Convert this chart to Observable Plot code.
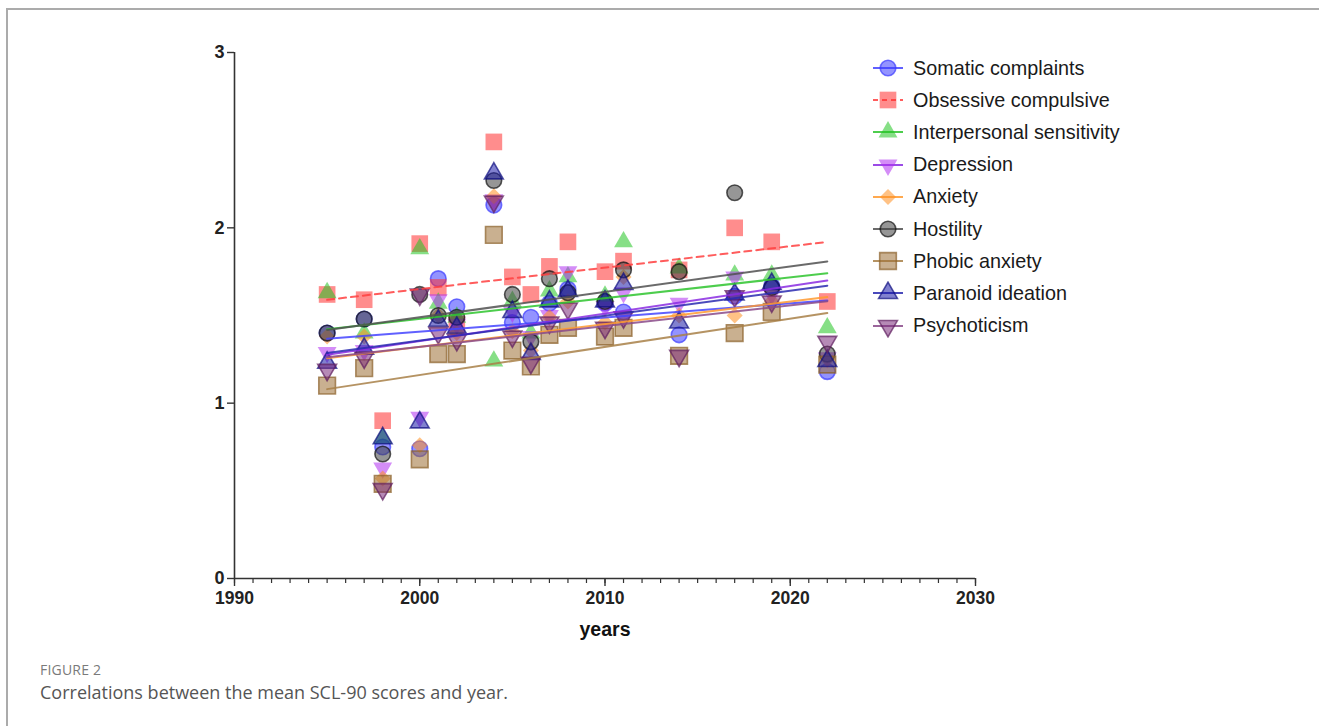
<!DOCTYPE html>
<html>
<head>
<meta charset="utf-8">
<script src="https://cdn.jsdelivr.net/npm/d3@7"></script>
<script src="https://cdn.jsdelivr.net/npm/@observablehq/plot@0.6"></script>
<style>
  html, body { margin: 0; padding: 0; background: #fff; }
  #wrap { position: relative; width: 1319px; height: 726px; overflow: hidden; }
  #frame { position: absolute; left: 6px; top: 8px; right: -10px; bottom: -10px;
           border-top: 2px solid #ababab; border-left: 2px solid #ababab; }
  #chart { position: absolute; left: 0; top: 0; }
  #legend { position: absolute; left: 872px; top: 0; font-family: "Liberation Sans", Arial, sans-serif;
            font-size: 19.8px; color: #1a1a1a; }
  .item { position: absolute; left: 0; height: 24px; display: flex; align-items: center; white-space: nowrap; }
  .item svg { display: block; margin-right: 9px; }
  #figlabel { position: absolute; left: 40px; top: 660px; font-family: "Open Sans", "Noto Sans", sans-serif;
              font-size: 14px; color: #7a7a7a; letter-spacing: 0.2px; }
  #caption { position: absolute; left: 40px; top: 680px; font-family: "Open Sans", "Noto Sans", sans-serif;
             font-size: 18px; color: #555; }
</style>
</head>
<body>
<div id="wrap">
  <div id="frame"></div>
  <div id="chart"></div>
  <div id="legend"></div>
  <div id="figlabel">FIGURE 2</div>
  <div id="caption">Correlations between the mean SCL-90 scores and year.</div>
</div>
<script>
// ---- data ----
const years = [1995, 1997, 1998, 2000, 2001, 2002, 2004, 2005, 2006, 2007, 2008, 2010, 2011, 2014, 2017, 2019, 2022];
const somatic       = [1.40, 1.48, 0.75, 0.74, 1.71, 1.55, 2.13, 1.46, 1.49, 1.57, 1.65, 1.57, 1.52, 1.39, 1.61, 1.67, 1.18];
const obsessive     = [1.62, 1.59, 0.90, 1.91, 1.66, 1.45, 2.49, 1.72, 1.62, 1.78, 1.92, 1.75, 1.81, 1.76, 2.00, 1.92, 1.58];
const interpersonal = [1.63, 1.40, 0.80, 1.88, 1.57, 1.49, 1.24, 1.58, 1.40, 1.64, 1.72, 1.61, 1.92, 1.77, 1.73, 1.73, 1.43];
const depression    = [1.29, 1.30, 0.63, 0.92, 1.59, 1.45, 2.16, 1.52, 1.38, 1.50, 1.75, 1.55, 1.63, 1.57, 1.72, 1.62, 1.26];
const anxiety       = [1.38, 1.38, 0.57, 0.76, 1.50, 1.40, 2.18, 1.41, 1.30, 1.49, 1.58, 1.46, 1.72, 1.50, 1.50, 1.58, 1.25];
const hostility     = [1.40, 1.48, 0.71, 1.62, 1.50, 1.49, 2.27, 1.62, 1.35, 1.71, 1.63, 1.58, 1.76, 1.75, 2.20, 1.66, 1.28];
const phobic        = [1.10, 1.20, 0.54, 0.68, 1.28, 1.28, 1.96, 1.30, 1.21, 1.39, 1.43, 1.38, 1.43, 1.27, 1.40, 1.52, 1.22];
const paranoid      = [1.23, 1.31, 0.80, 0.89, 1.47, 1.43, 2.31, 1.52, 1.28, 1.58, 1.64, 1.58, 1.68, 1.46, 1.62, 1.68, 1.24];
const psychoticism  = [1.19, 1.26, 0.51, 1.62, 1.40, 1.36, 2.15, 1.38, 1.23, 1.46, 1.54, 1.43, 1.49, 1.27, 1.61, 1.58, 1.35];

const seriesNames = ["Somatic complaints", "Obsessive compulsive", "Interpersonal sensitivity", "Depression",
                     "Anxiety", "Hostility", "Phobic anxiety", "Paranoid ideation", "Psychoticism"];
const seriesValues = [somatic, obsessive, interpersonal, depression, anxiety, hostility, phobic, paranoid, psychoticism];
const xTicksMajor = [1990, 2000, 2010, 2020, 2030];
const yTicks = [0, 1, 2, 3];

// ---- styles ----
const styles = [
  {symbol: "circle",   r: 7.8, rotate: 0,   fill: "#3b3bff", stroke: "#3b3bff", line: "#4444ff"},
  {symbol: "square",   r: 9.4, rotate: 0,   fill: "#ff3030", stroke: "none",    line: "#ff4040", dash: "7,5"},
  {symbol: "triangle", r: 7.0, rotate: 0,   fill: "#22c422", stroke: "none",    line: "#2ec42e"},
  {symbol: "triangle", r: 7.0, rotate: 180, fill: "#b030f0", stroke: "none",    line: "#8a2be2"},
  {symbol: "square",   r: 6.4, rotate: 45,  fill: "#ff9020", stroke: "none",    line: "#ff9a30"},
  {symbol: "circle",   r: 7.8, rotate: 0,   fill: "#404040", stroke: "#111111", line: "#505050"},
  {symbol: "square",   r: 9.4, rotate: 0,   fill: "#9c7035", stroke: "#8a6028", line: "#a88048"},
  {symbol: "triangle", r: 7.0, rotate: 0,   fill: "#1a1aa8", stroke: "#101080", line: "#2a2ab0"},
  {symbol: "triangle", r: 7.0, rotate: 180, fill: "#7a2a7a", stroke: "#602060", line: "#8a4a8a"}
];

const datasets = seriesValues.map(vals => years.map((year, i) => ({year, value: vals[i]})));

const marks = [];
datasets.forEach((data, k) => {
  const s = styles[k];
  marks.push(Plot.dot(data, {
    x: "year", y: "value", symbol: s.symbol, r: s.r, rotate: s.rotate,
    fill: s.fill, fillOpacity: 0.55, stroke: s.stroke, strokeWidth: 1.6, strokeOpacity: 0.7
  }));
});
datasets.forEach((data, k) => {
  const s = styles[k];
  marks.push(Plot.linearRegressionY(data, {
    x: "year", y: "value", ci: 0, stroke: s.line, strokeWidth: 2, strokeOpacity: 0.85,
    strokeDasharray: s.dash || null
  }));
});

const chart = Plot.plot({
  width: 1319,
  height: 650,
  marginLeft: 234,
  marginRight: 344,
  marginTop: 52,
  marginBottom: 72,
  x: {domain: [1990, 2030]},
  y: {domain: [0, 3]},
  style: {fontFamily: "'Liberation Sans', Arial, sans-serif", background: "transparent", color: "#222"},
  marks: [
    ...marks,
    Plot.ruleX([1990], {y1: 0, y2: 3, stroke: "#333", strokeWidth: 1.6}),
    Plot.ruleY([0], {x1: 1990, x2: 2030, stroke: "#333", strokeWidth: 1.6}),
    Plot.axisY({ticks: yTicks, tickSize: 7, tickPadding: 3, fontSize: 18, fontWeight: "bold",
                stroke: "#333", strokeWidth: 1.4, tickFormat: d => String(d), label: null}),
    Plot.axisX({ticks: d3.range(1990, 2031), tickSize: 5, stroke: "#333", strokeWidth: 1.2,
                text: null, label: null}),
    Plot.axisX({ticks: xTicksMajor, tickSize: 8, tickPadding: 5, fontSize: 17.5, fontWeight: "bold",
                stroke: "#333", strokeWidth: 1.4, tickFormat: d => String(d), label: null}),
    Plot.text(["years"], {frameAnchor: "bottom", lineAnchor: "middle", dy: 51, fontSize: 19.5,
                          fontWeight: "bold", fill: "#111"})
  ]
});
document.getElementById("chart").appendChild(chart);

// ---- legend ----
const legend = d3.select("#legend");
const typeOf = {circle: d3.symbolCircle, square: d3.symbolSquare, triangle: d3.symbolTriangle};
seriesNames.forEach((name, k) => {
  const s = styles[k];
  const item = legend.append("div").attr("class", "item").style("top", (56 + k * 32.2) + "px");
  const svg = item.append("svg").attr("width", 32).attr("height", 24);
  svg.append("line").attr("x1", 1).attr("x2", 31).attr("y1", 12).attr("y2", 12)
    .attr("stroke", s.line).attr("stroke-width", 2).attr("stroke-opacity", 0.85)
    .attr("stroke-dasharray", s.dash ? "5,4" : null);
  svg.append("path")
    .attr("d", d3.symbol().type(typeOf[s.symbol]).size(Math.PI * s.r * s.r)())
    .attr("transform", `translate(16,12) rotate(${s.rotate})`)
    .attr("fill", s.fill).attr("fill-opacity", 0.55)
    .attr("stroke", s.stroke).attr("stroke-width", 1.6).attr("stroke-opacity", 0.7);
  item.append("span").text(name);
});
</script>
</body>
</html>
